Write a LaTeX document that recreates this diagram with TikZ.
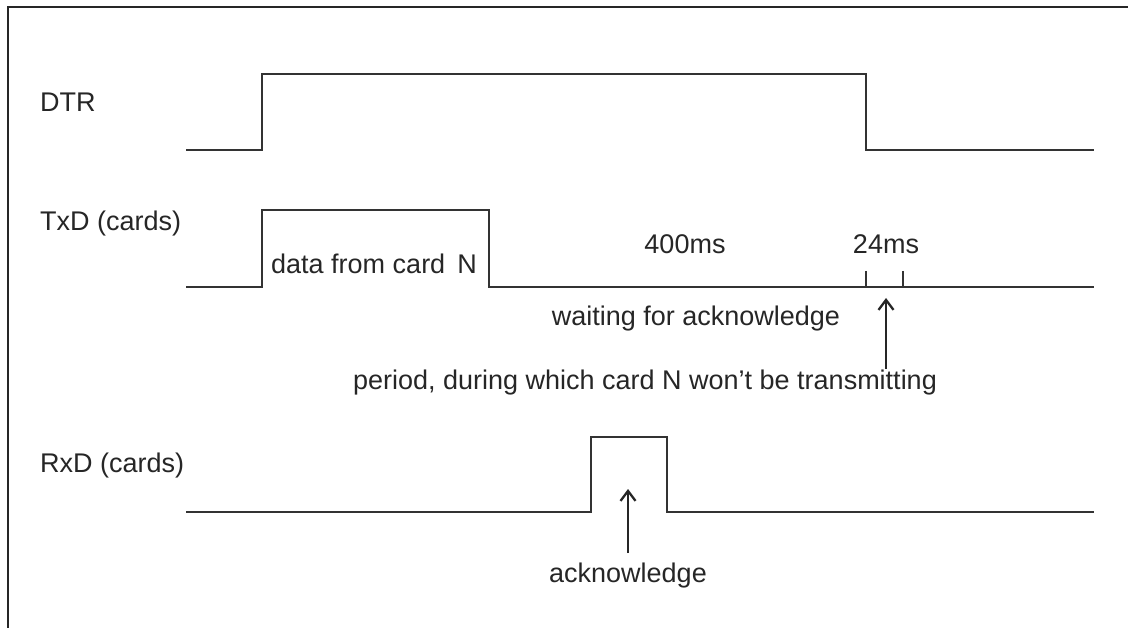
\documentclass[tikz,border=0pt]{standalone}
\usepackage{fontspec}
\setmainfont{Liberation Sans}
\usetikzlibrary{arrows.meta}
\begin{document}
\begin{tikzpicture}[x=1pt,y=-1pt,
  sig/.style={line width=2.6pt,color=black!80,line join=miter},
  lbl/.style={font=\fontsize{27}{30}\selectfont,text=black!85,inner sep=0pt},
  frame/.style={line width=2.2pt,color=black!85},
  pointer/.style={line width=2.3pt,color=black!85,-{Straight Barb[length=10pt,width=15pt,line width=2.3pt]}}]
\useasboundingbox (0,0) rectangle (1128,628);
\draw[frame] (8,628) -- (8,7) -- (1128,7);
% labels
\node[lbl,anchor=west] (ldtr) at (40,102) {DTR};
\node[lbl,anchor=west] (ltxd) at (40,224) {TxD (cards)};
\node[lbl,anchor=west] (lrxd) at (40,466) {RxD (cards)};
% DTR
\draw[sig] (186,150) -- (262,150) -- (262,74) -- (866,74) -- (866,150) -- (1094,150);
% TxD
\draw[sig] (186,287) -- (262,287) -- (262,210) -- (489,210) -- (489,287) -- (1094,287);
\draw[sig] (866,271) -- (866,287);
\draw[sig] (903,271) -- (903,287);
\node[lbl] (data) at (374,264) {data from card\hspace{12pt}N};
\node[lbl] (t400) at (685,244) {400ms};
\node[lbl] (t24) at (886,244) {24ms};
\node[lbl] (wait) at (696,319) {waiting for acknowledge};
\coordinate (gap) at (886,298);
\node[lbl] (period) at (645,383) {period, during which card N won’t be transmitting};
\draw[pointer] (886,369) -- (gap);
% RxD
\draw[sig] (186,512) -- (591,512) -- (591,437) -- (667,437) -- (667,512) -- (1094,512);
\coordinate (ack) at (628,489);
\node[lbl] (ackl) at (628,576) {acknowledge};
\draw[pointer] (628,553) -- (ack);
\end{tikzpicture}
\end{document}
